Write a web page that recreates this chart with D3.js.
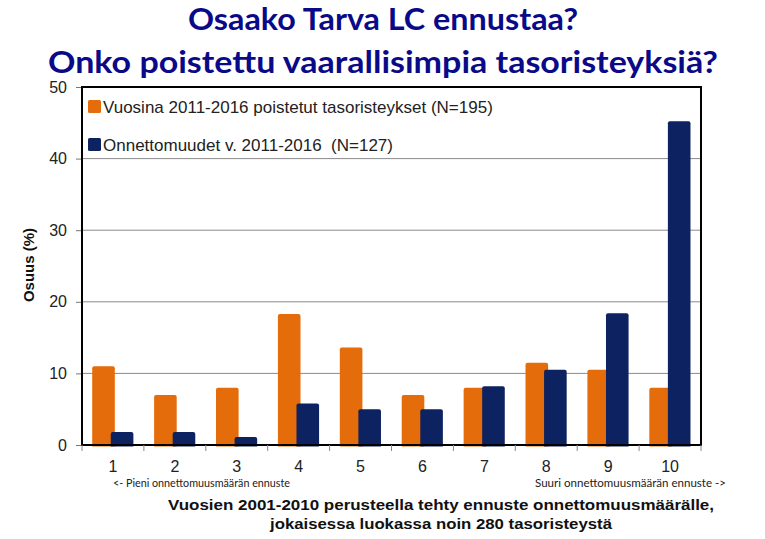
<!DOCTYPE html>
<html><head><meta charset="utf-8">
<script src="https://cdn.jsdelivr.net/npm/d3@7"></script>
<style>body{margin:0;background:#fff}svg{display:block}</style>
</head><body>
<svg id="c" width="765" height="539"></svg>
<script>
const categories = ["1","2","3","4","5","6","7","8","9","10"];
const removedShare = [11.0, 7.0, 8.0, 18.3, 13.6, 7.0, 8.0, 11.5, 10.5, 8.0];
const accidentShare = [1.8, 1.8, 1.1, 5.8, 5.0, 5.0, 8.2, 10.5, 18.4, 45.2];
const yTicks = [0, 10, 20, 30, 40, 50];
const seriesNames = ["Vuosina 2011-2016 poistetut tasoristeykset (N=195)", "Onnettomuudet v. 2011-2016  (N=127)"];
const titleLines = ["Osaako Tarva LC ennustaa?", "Onko poistettu vaarallisimpia tasoristeyksiä?"];
const xTitleLines = ["Vuosien 2001-2010 perusteella tehty ennuste onnettomuusmäärälle,", "jokaisessa luokassa noin 280 tasoristeystä"];
const yTitle = "Osuus (%)";
const lowNote = "<- Pieni onnettomuusmäärän ennuste";
const highNote = "Suuri onnettomuusmäärän ennuste ->";

const colors = ["#E46C0A", "#0D2260"];
const svg = d3.select("#c");
const L = 82, R = 701, T = 87, B = 445;

const x = d3.scaleBand().domain(categories).range([L, R]).paddingInner(0).paddingOuter(0);
const y = d3.scaleLinear().domain([0, 50]).range([B, T]);

// titles
const titleFont = "Lato, 'Open Sans', sans-serif";
[[titleLines[0], 30, 390], [titleLines[1], 73, 670]].forEach(([t, yy, w]) => {
  svg.append("text").attr("x", 383).attr("y", yy).attr("text-anchor", "middle")
    .attr("font-family", titleFont).attr("font-weight", "bold").attr("font-size", 31)
    .attr("fill", "#0a0a88").attr("textLength", w).attr("lengthAdjust", "spacingAndGlyphs").text(t);
});

// gridlines
svg.append("g").selectAll("line").data(yTicks.filter(d => d > 0 && d < 50)).join("line")
  .attr("x1", L).attr("x2", R).attr("y1", d => y(d)).attr("y2", d => y(d))
  .attr("stroke", "#8a8a8a").attr("stroke-width", 1);

// bars
const bw = x.bandwidth();
const barW = bw * 0.365;
const g = svg.append("g");
function bar(sel, xs, vals, color) {
  sel.selectAll(null).data(categories).join("path")
    .attr("fill", color)
    .attr("d", (c, i) => {
      const x0 = xs(c), w = barW, y0 = y(vals[i]), y1 = B + 1.5, r = 2;
      return `M${x0},${y1}V${y0 + r}Q${x0},${y0} ${x0 + r},${y0}H${x0 + w - r}Q${x0 + w},${y0} ${x0 + w},${y0 + r}V${y1}Z`;
    });
}
bar(g.append("g"), c => x(c) + bw * 0.165, removedShare, colors[0]);
bar(g.append("g"), c => x(c) + bw * 0.465, accidentShare, colors[1]);

// frame
svg.append("rect").attr("x", L).attr("y", T).attr("width", R - L).attr("height", B - T)
  .attr("fill", "none").attr("stroke", "#000").attr("stroke-width", 2);

// y axis ticks + labels
const yAxis = d3.axisLeft(y).tickValues(yTicks).tickSize(5).tickPadding(9);
const ya = svg.append("g").attr("transform", `translate(${L - 1},0)`).call(yAxis);
ya.select(".domain").remove();
ya.selectAll(".tick line").attr("stroke", "#777");
ya.selectAll(".tick text").attr("font-family", "'Liberation Sans', Arial, sans-serif")
  .attr("font-size", 16).attr("fill", "#222");

// x axis ticks at band edges
const edges = categories.map(c => x(c)).concat([R]);
svg.append("g").selectAll("line").data(edges).join("line")
  .attr("x1", d => d).attr("x2", d => d).attr("y1", B).attr("y2", B + 6)
  .attr("stroke", "#888").attr("stroke-width", 1);
const xAxis = d3.axisBottom(x).tickSize(0).tickPadding(16);
const xa = svg.append("g").attr("transform", `translate(0,${B})`).call(xAxis);
xa.select(".domain").remove();
xa.selectAll(".tick text").attr("font-family", "'Liberation Sans', Arial, sans-serif")
  .attr("font-size", 16).attr("fill", "#222");

// notes
svg.append("text").attr("x", 113).attr("y", 487).attr("font-family", titleFont).attr("font-size", 11)
  .attr("fill", "#222").attr("textLength", 177).attr("lengthAdjust", "spacingAndGlyphs").text(lowNote);
svg.append("text").attr("x", 726).attr("y", 487).attr("text-anchor", "end").attr("font-family", titleFont).attr("font-size", 11)
  .attr("fill", "#222").attr("textLength", 191).attr("lengthAdjust", "spacingAndGlyphs").text(highNote);

// x title
[[xTitleLines[0], 510, 546], [xTitleLines[1], 529, 342]].forEach(([t, yy, w]) => {
  svg.append("text").attr("x", 441).attr("y", yy).attr("text-anchor", "middle")
    .attr("font-family", "'Liberation Sans', Arial, sans-serif").attr("font-weight", "bold").attr("font-size", 15)
    .attr("fill", "#111").attr("textLength", w).attr("lengthAdjust", "spacingAndGlyphs").text(t);
});

// y title
svg.append("text").attr("transform", "translate(34,265) rotate(-90)").attr("text-anchor", "middle")
  .attr("font-family", "'Liberation Sans', Arial, sans-serif").attr("font-weight", "bold").attr("font-size", 15)
  .attr("fill", "#111").text(yTitle);

// legend
const leg = svg.append("g");
seriesNames.forEach((n, i) => {
  const yy = 100 + i * 38;
  leg.append("rect").attr("x", 88).attr("y", yy).attr("width", 13).attr("height", 13).attr("rx", 1.5).attr("fill", colors[i]);
  leg.append("text").attr("x", 103).attr("y", yy + 12.5).attr("font-family", "'Liberation Sans', Arial, sans-serif")
    .attr("font-size", 17).attr("fill", "#222").style("white-space", "pre").text(n);
});
</script>
</body></html>
